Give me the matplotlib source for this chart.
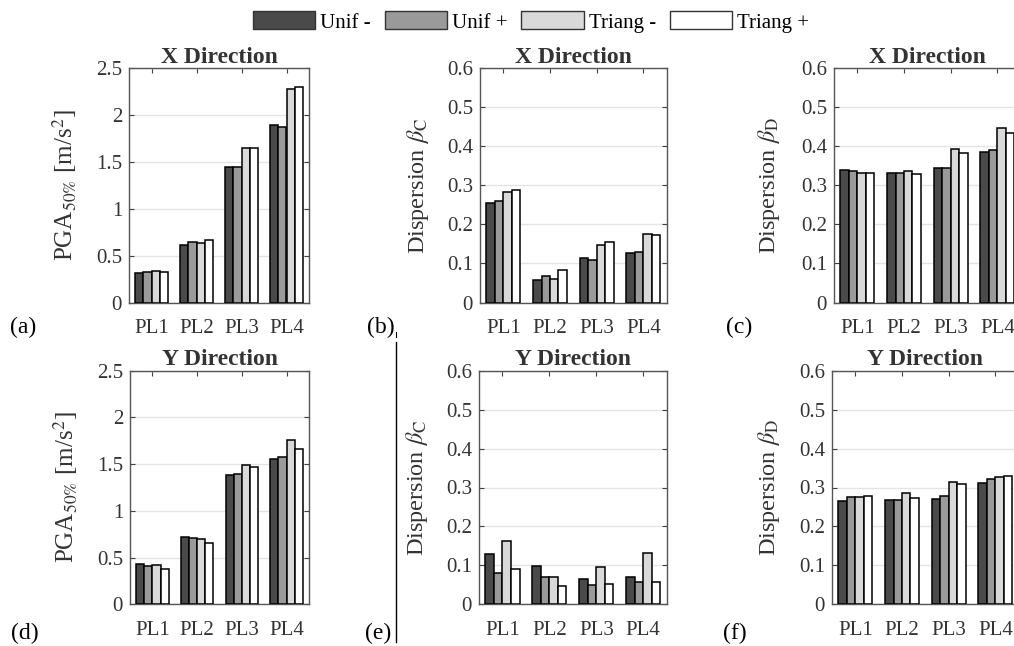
import numpy as np
import matplotlib
matplotlib.use('Agg')
import matplotlib.pyplot as plt
from matplotlib.patches import Patch
from matplotlib.lines import Line2D

plt.rcParams['font.family'] = ['Liberation Serif', 'DejaVu Serif']
plt.rcParams['mathtext.fontset'] = 'stix'

# data
pl_labels = ['PL1', 'PL2', 'PL3', 'PL4']
series_names = ['Unif -', 'Unif +', 'Triang -', 'Triang +']

# each list: [Unif -, Unif +, Triang -, Triang +], values for PL1..PL4
pga_x = [[0.32, 0.61, 1.45, 1.90],
         [0.33, 0.65, 1.45, 1.875],
         [0.34, 0.63, 1.645, 2.275],
         [0.325, 0.67, 1.645, 2.30]]
betaC_x = [[0.256, 0.058, 0.113, 0.126],
           [0.259, 0.067, 0.108, 0.130],
           [0.283, 0.061, 0.148, 0.176],
           [0.289, 0.084, 0.154, 0.173]]
betaD_x = [[0.340, 0.333, 0.344, 0.386],
           [0.337, 0.333, 0.344, 0.391],
           [0.331, 0.337, 0.393, 0.448],
           [0.331, 0.329, 0.384, 0.433]]
pga_y = [[0.435, 0.724, 1.384, 1.555],
         [0.412, 0.71, 1.394, 1.573],
         [0.418, 0.703, 1.487, 1.758],
         [0.382, 0.66, 1.466, 1.662]]
betaC_y = [[0.130, 0.099, 0.066, 0.069],
           [0.080, 0.069, 0.050, 0.058],
           [0.162, 0.070, 0.095, 0.133],
           [0.090, 0.047, 0.053, 0.058]]
betaD_y = [[0.266, 0.268, 0.271, 0.3125],
           [0.275, 0.268, 0.279, 0.323],
           [0.275, 0.285, 0.313, 0.326],
           [0.277, 0.274, 0.310, 0.330]]

pga_ticks = [0, 0.5, 1, 1.5, 2, 2.5]
pga_ticklabels = ['0', '0.5', '1', '1.5', '2', '2.5']
beta_ticks = [0, 0.1, 0.2, 0.3, 0.4, 0.5, 0.6]
beta_ticklabels = ['0', '0.1', '0.2', '0.3', '0.4', '0.5', '0.6']

colors = ['#4a4a4a', '#9a9a9a', '#d9d9d9', '#ffffff']
txt = '#333333'

W, H = 1014, 646
fig = plt.figure(figsize=(W / 100, H / 100), dpi=100)

def rect(left, top, right, bottom):
    return [left / W, 1 - bottom / H, (right - left) / W, (bottom - top) / H]

# axes box, data, title, kind, panel tag, ylabel x (axes frac), tag position (px)
panels = [
    (rect(129, 68.3, 309, 302.5), pga_x, 'X Direction', 'pga', '(a)', -0.36, (10, 327)),
    (rect(480, 68.3, 666.7, 302.5), betaC_x, 'X Direction', 'C', '(b)', -0.33, (367, 327)),
    (rect(834, 68.3, 1020.7, 302.5), betaD_x, 'X Direction', 'D', '(c)', -0.35, (726, 327)),
    (rect(130, 370.7, 309, 604.3), pga_y, 'Y Direction', 'pga', '(d)', -0.36, (11, 633)),
    (rect(479, 370.7, 666.7, 604.3), betaC_y, 'Y Direction', 'C', '(e)', -0.33, (365, 633)),
    (rect(832, 370.7, 1018.7, 604.3), betaD_y, 'Y Direction', 'D', '(f)', -0.34, (723, 633)),
]

x = np.arange(1, 5)
bw = 0.727 / 4
offsets = (np.arange(4) - 1.5) * bw

for r, data, title, kind, tag, lx, tpos in panels:
    ax = fig.add_axes(r)
    ax.set_axisbelow(True)
    ax.yaxis.grid(True, color='#e4e4e4', lw=1)
    for i in range(4):
        ax.bar(x + offsets[i], data[i], width=bw, color=colors[i],
               edgecolor='black', linewidth=1.1, zorder=3)
    ax.set_xlim(0.5, 4.5)
    if kind == 'pga':
        ax.set_ylim(0, 2.5)
        ax.set_yticks(pga_ticks)
        ax.set_yticklabels(pga_ticklabels)
        ax.set_ylabel(r'PGA$_{50\%}$ [m/s$^2$]', fontsize=18, color=txt, va='center')
    else:
        ax.set_ylim(0, 0.6)
        ax.set_yticks(beta_ticks)
        ax.set_yticklabels(beta_ticklabels)
        ax.set_ylabel(r'Dispersion $\beta_{\mathrm{%s}}$' % kind, fontsize=17.5,
                      color=txt, va='center')
    ax.yaxis.set_label_coords(lx, 0.5)
    ax.set_xticks(x)
    ax.set_xticklabels(pl_labels)
    ax.tick_params(direction='in', top=True, right=True, length=3.5,
                   color='#404040', labelsize=15, labelcolor=txt)
    ax.tick_params(axis='x', pad=12)
    ax.tick_params(axis='y', pad=5)
    for s in ax.spines.values():
        s.set_color('#555555')
        s.set_linewidth(1)
    ax.set_title(title, fontsize=17, fontweight='bold', color=txt, pad=4)
    fig.text(tpos[0] / W, 1 - tpos[1] / H, tag, fontsize=17, color='black',
             ha='left', va='center')

# stray vertical rule between (b)/(e) and the middle column
fig.add_artist(Line2D([396 / W, 396 / W], [1 - 332 / H, 1 - 337 / H], color='black', lw=0.8))
fig.add_artist(Line2D([396 / W, 396 / W], [1 - 342 / H, 1 - 642 / H], color='black', lw=1))

handles = [Patch(facecolor=c, edgecolor='#333333', linewidth=1) for c in colors]
fig.legend(handles, series_names, loc='center', bbox_to_anchor=(531 / W, 1 - 22 / H),
           ncol=4, frameon=False, fontsize=15, handlelength=3.0, handleheight=0.95,
           handletextpad=0.25, columnspacing=0.65, labelcolor='black')

fig.savefig('out.png', dpi=100)
